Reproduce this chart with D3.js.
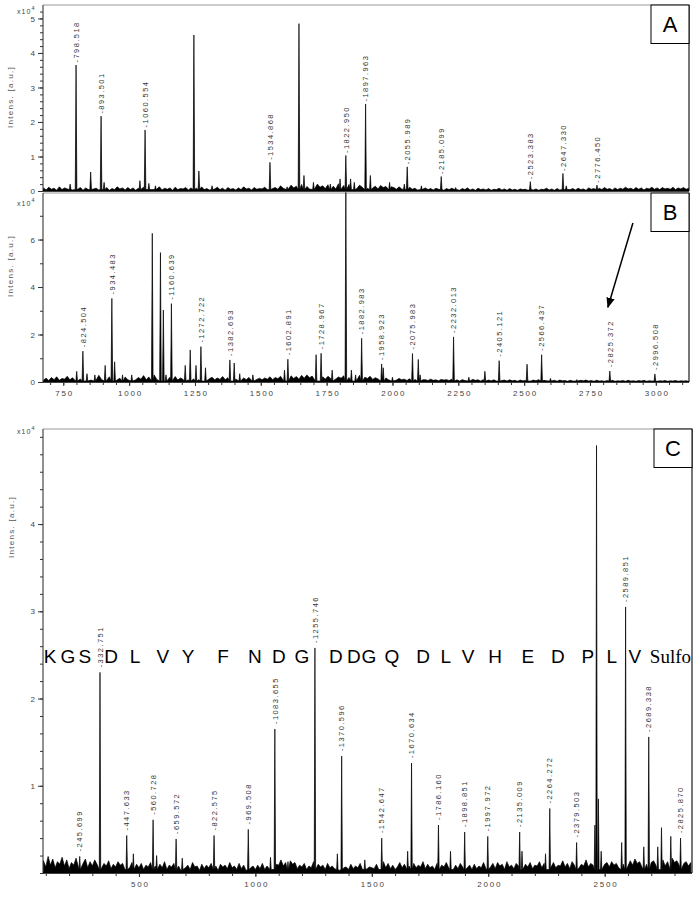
<!DOCTYPE html>
<html><head><meta charset="utf-8">
<script src="https://cdn.jsdelivr.net/npm/d3@7"></script>
<style>
body{margin:0;background:#fff}
svg{display:block}
text{font-family:"Liberation Sans",Arial,sans-serif}
</style>
</head><body>
<svg id="c" width="697" height="900"></svg>
<script>
// ---------------- DATA (intensity in 10^4 a.u.) ----------------
// Panel A
const aMz  = [776,798.518,854,893.501,905,1041,1060.554,1075,1100,1246,1265,1315,1534.868,1600,1645,1664,1700,1764,1801,1822.950,1841,1855,1897.963,1916,1989,2045,2055.989,2110,2185.099,2240,2523.383,2647.330,2660,2776.450];
const aInt = [0.2,3.65,0.55,2.17,0.25,0.3,1.77,0.22,0.15,4.52,0.58,0.15,0.83,0.12,4.85,0.45,0.25,0.2,0.35,1.03,0.35,0.25,2.52,0.45,0.25,0.2,0.7,0.15,0.42,0.1,0.27,0.51,0.15,0.17];
const aLab = ["","798.518","","893.501","","","1060.554","","","","","","1534.868","","","","","","","1822.950","","","1897.963","","","","2055.989","","2185.099","","2523.383","2647.330","","2776.450"];
// Panel A baseline noise, every 10 Da from 675 (units of 0.01 x10^4)
const aNoise = [9,3,11,5,8,2,12,4,9,6,13,3,8,5,10,2,9,4,14,6,8,3,11,5,10,2,7,4,12,6,9,3,10,
 4,9,2,8,5,11,3,7,4,10,6,12,3,8,5,9,2,11,4,7,6,10,3,9,5,8,2,12,4,7,3,9,6,11,4,8,2,10,5,7,3,9,4,12,6,8,3,10,5,7,
 6,11,4,13,7,10,5,15,8,12,6,17,9,14,7,19,10,13,6,16,9,20,11,15,7,18,10,14,6,21,12,16,8,19,10,13,7,17,11,15,8,18,9,14,6,16,10,13,7,12,
 10,5,12,6,9,4,11,5,8,3,10,6,9,4,7,3,8,5,9,2,7,4,8,3,6,2,7,4,9,3,6,2,8,4,6,3,7,2,5,4,8,3,6,2,7,3,5,2,6,4,
 5,2,7,3,6,2,5,4,8,3,6,2,7,3,5,2,6,4,7,3,8,4,6,2,9,5,7,3,8,4,10,5,7,3,9,4,8,5,11,6,8,4,10,5,9,3,8,6,11,5,9,4,10,6,8,5,11,4,9,6,10,5,8];

// Panel B
const bMz  = [801,824.504,840,870,909,934.483,945,975,1010,1088,1119,1130,1140,1160.639,1213,1232,1254,1272.722,1290,1382.693,1399,1420,1470,1590,1602.891,1710,1728.967,1771,1823,1844,1860,1882.983,1958.923,1965,2000,2075.983,2098,2105,2232.013,2290,2351,2405.121,2511,2566.437,2600,2700,2825.372,2996.508];
const bInt = [0.45,1.3,0.35,0.3,0.7,3.52,0.85,0.3,0.3,6.26,5.45,3.03,0.3,3.3,0.7,1.35,0.7,1.49,0.6,0.93,0.8,0.35,0.3,0.5,0.96,1.15,1.21,0.5,8.5,0.5,0.3,1.84,0.76,0.6,0.2,1.2,0.95,0.3,1.9,0.2,0.45,0.9,0.75,1.15,0.15,0.1,0.46,0.34];
const bLab = ["","824.504","","","","934.483","","","","","","","","1160.639","","","","1272.722","","1382.693","","","","","1602.891","","1728.967","","","","","1882.983","1958.923","","","2075.983","","","2232.013","","","2405.121","","2566.437","","","2825.372","2996.508"];
const bNoise = [8,16,6,19,10,22,7,15,12,24,9,18,6,21,13,26,10,17,8,23,14,28,11,19,7,22,12,25,9,16,13,21,10,
 14,24,9,19,12,27,10,21,15,30,11,18,13,25,9,20,12,23,8,17,11,22,9,16,13,24,10,19,12,26,14,20,9,17,11,23,10,18,8,15,12,21,9,17,10,19,8,14,11,16,
 9,17,12,22,10,19,14,24,11,20,13,26,15,23,12,28,16,30,18,25,14,27,17,22,12,24,15,29,13,21,16,26,12,19,14,23,10,28,13,20,15,24,11,18,13,22,10,17,9,15,
 13,8,15,9,12,6,14,8,11,5,13,9,10,6,12,7,9,5,11,8,10,6,12,7,9,4,10,6,8,5,11,7,9,4,10,6,8,5,9,4,10,6,8,4,9,5,7,3,8,5,
 6,9,4,8,5,10,3,7,5,9,4,7,3,8,5,6,3,7,4,6,3,7,5,8,4,6,3,7,4,5,3,6,4,7,3,5,4,6,3,7,4,5,3,6,4,7,3,5,4,6,3,5,4,6,3,5,4,6,3,5,4,5,3];
const bTicks = [750,1000,1250,1500,1750,2000,2250,2500,2750,3000];

// Panel C
const cMz  = [245.699,332.751,447.633,476,560.728,576,659.572,686,822.575,969.508,1065,1083.655,1140,1255.746,1352,1370.596,1470,1542.647,1654,1670.634,1786.160,1838,1898.851,1997.972,2135.009,2145,2246,2264.272,2379.503,2458,2465,2473,2485,2573,2589.851,2668,2689.338,2728,2744,2784,2825.870];
const cInt = [0.19,2.3,0.43,0.22,0.61,0.2,0.39,0.17,0.43,0.5,0.18,1.65,0.13,2.58,0.22,1.34,0.15,0.4,0.25,1.26,0.55,0.25,0.47,0.42,0.47,0.25,0.22,0.74,0.35,0.55,4.9,0.85,0.25,0.35,3.05,0.3,1.56,0.3,0.52,0.42,0.4];
const cLab = ["245.699","332.751","447.633","","560.728","","659.572","","822.575","969.508","","1083.655","","1255.746","","1370.596","","1542.647","","1670.634","1786.160","","1898.851","1997.972","2135.009","","","2264.272","2379.503","","","","","","2589.851","","2689.338","","","","2825.870"];
const cNoise = [14,7,19,9,16,6,13,10,18,8,15,5,12,9,17,7,14,11,16,6,13,8,15,10,12,6,11,8,14,5,10,7,13,9,11,4,9,6,12,7,10,
 6,11,4,9,7,12,5,8,3,10,6,13,4,9,7,11,5,8,3,10,6,9,4,12,7,8,3,10,5,9,6,11,4,8,3,10,7,9,5,12,6,8,4,11,5,9,3,10,6,8,4,
 9,5,11,4,8,7,13,6,10,9,15,8,12,6,14,10,12,5,9,7,11,4,8,6,13,5,10,7,9,4,11,6,8,5,10,3,9,6,7,4,10,5,8,6,11,4,9,5,7,6,
 5,10,4,8,13,6,11,5,9,4,7,12,6,10,5,8,3,11,6,9,7,13,5,10,6,8,4,11,5,9,7,12,6,10,4,9,5,11,7,13,6,9,4,10,5,8,6,12,5,9,
 7,11,5,12,8,10,4,13,7,9,5,11,8,14,6,10,7,12,5,9,8,13,6,11,4,10,7,12,6,9,8,14,7,11,5,13,9,12,6,10,8,15,7,11,9,13,6,12,8,10,
 12,7,13,9,11,6,15,10,12,8,14,9,16,11,13,7,15,10,17,12,14,9,16,11,15,8,13,10,17,12,14,9,15,11,13,8,12];
const cTicks = [500,1000,1500,2000,2500];

// Sequence annotation in panel C (letter, m/z position)
const seqLetters = ["K","G","S","D","L","V","Y","F","N","D","G","D","D","G","Q","D","L","V","H","E","D","P","L","V"];
const seqMz      = [118,195,268,380,483,603,711,861,998,1101,1200,1346,1423,1488,1586,1720,1818,1913,2029,2170,2299,2428,2531,2630];
const sulfoMz = 2694, seqLevel = 2.405;

// Arrow in panel B: [m/z, intensity]
const arrowFrom = [2913, 6.7], arrowTo = [2818, 3.15];

// ---------------- DRAW ----------------
const svg = d3.select("#c");
const defs = svg.append("defs");
defs.append("marker").attr("id","ah").attr("viewBox","0 0 10 10").attr("refX",9).attr("refY",5)
  .attr("markerWidth",7).attr("markerHeight",7).attr("orient","auto-start-reverse")
  .append("path").attr("d","M0,1 L10,5 L0,9 Z").attr("fill","#000");

function drawPanel(p){
  const x = d3.scaleLinear().domain(p.xd).range([p.x0,p.x1]);
  const y = d3.scaleLinear().domain(p.yd).range([p.y0,p.y1]);
  const g = svg.append("g");
  const id = "clip"+p.name;
  defs.append("clipPath").attr("id",id).append("rect")
    .attr("x",p.x0).attr("y",p.y1-0.5).attr("width",p.x1-p.x0).attr("height",p.y0-p.y1+0.5);

  g.append("line").attr("x1",p.x0).attr("x2",p.x1).attr("y1",p.y1).attr("y2",p.y1)
    .attr("stroke","#9a9a9a").attr("stroke-width",1.2);
  g.append("line").attr("x1",p.x1).attr("x2",p.x1).attr("y1",p.y1).attr("y2",p.y0)
    .attr("stroke","#777").attr("stroke-width",2);

  const pts = [];
  p.noise.forEach((v,i)=>{
    const m = p.nStart + i*p.nStep;
    if (p.mz.every(q=>Math.abs(q-m) > p.gap)) pts.push([m, v/100]);
  });
  p.mz.forEach((m,i)=>{ pts.push([m-p.hw,0.04],[m,p.int[i]],[m+p.hw,0.04]); });
  pts.sort((a,b)=>a[0]-b[0]);
  const area = d3.area().x(d=>x(d[0])).y0(y(0)).y1(d=>y(d[1]));
  g.append("path").attr("clip-path",`url(#${id})`).attr("d",area(pts))
    .attr("fill","#000").attr("stroke","#000").attr("stroke-width",0.7).attr("stroke-linejoin","round");

  p.mz.forEach((m,i)=>{
    if(!p.lab[i]) return;
    const tx = x(m)+2.7, ty = y(p.int[i]) - p.lo;
    g.append("text").attr("transform",`translate(${tx},${ty}) rotate(-90)`)
      .attr("font-size",7.5).attr("letter-spacing",1.45).attr("fill","#333")
      .text("-"+p.lab[i]);
  });

  g.append("line").attr("x1",p.x0).attr("x2",p.x0).attr("y1",p.y1).attr("y2",p.y0)
    .attr("stroke","#222").attr("stroke-width",1);
  g.append("line").attr("x1",p.x0).attr("x2",p.x1).attr("y1",p.y0).attr("y2",p.y0)
    .attr("stroke","#000").attr("stroke-width",1.6);

  const yMinor = d3.range(0, p.yd[1]-0.02, p.yMinor);
  const ya1 = d3.axisLeft(y).tickValues(yMinor).tickSize(3).tickFormat("");
  const ya2 = d3.axisLeft(y).tickValues(p.yMajor).tickSize(5).tickPadding(3).tickFormat(d3.format("d"));
  [ya1,ya2].forEach(ax=>{
    const a = g.append("g").attr("transform",`translate(${p.x0},0)`).call(ax);
    a.select(".domain").remove();
    a.selectAll("line").attr("stroke","#333");
    a.selectAll("text").attr("font-size",8).attr("fill","#444").style("font-family","Liberation Sans, Arial, sans-serif");
  });

  if (p.xMinor){
    const xa1 = d3.axisBottom(x).tickValues(p.xMinor).tickSize(3).tickFormat("");
    const xa2 = d3.axisBottom(x).tickValues(p.xMajor).tickSize(4).tickPadding(4).tickFormat(d3.format("d"));
    [xa1,xa2].forEach(ax=>{
      const a = g.append("g").attr("transform",`translate(0,${p.y0})`).call(ax);
      a.select(".domain").remove();
      a.selectAll("line").attr("stroke","#333");
      a.selectAll("text").attr("font-size",8).attr("fill","#444").attr("letter-spacing",1.8)
        .attr("dx",0.9).style("font-family","Liberation Sans, Arial, sans-serif");
    });
  }

  g.append("text").attr("transform",`translate(${p.titleX},${p.titleY}) rotate(-90)`)
    .attr("text-anchor","middle").attr("font-size",8).attr("letter-spacing",1.3).attr("fill","#555")
    .text("Intens. [a.u.]");
  const e = g.append("text").attr("x",17).attr("y",p.expY).attr("font-size",7).attr("fill","#444").attr("letter-spacing",1.1);
  e.append("tspan").text("x10");
  e.append("tspan").attr("dy",-4).attr("font-size",5.5).text("4");

  g.append("rect").attr("x",p.x1-38).attr("y",p.y1).attr("width",38).attr("height",38.5)
    .attr("fill","#fff").attr("stroke","#000").attr("stroke-width",1);
  g.append("text").attr("x",p.x1-19).attr("y",p.y1+27).attr("text-anchor","middle")
    .attr("font-size",22).attr("fill","#000").text(p.name);

  return {x,y,g};
}

const A = drawPanel({name:"A", x0:43, x1:689, y0:191, y1:5, xd:[673,3126], yd:[0,5.39],
  mz:aMz, int:aInt, lab:aLab, noise:aNoise, nStart:675, nStep:10, gap:5, hw:3, lo:2.5,
  yMinor:0.2, yMajor:[0,1,2,3,4,5], titleX:13, titleY:97, expY:14});

const B = drawPanel({name:"B", x0:43, x1:689, y0:382, y1:193, xd:[673,3126], yd:[0,7.96],
  mz:bMz, int:bInt, lab:bLab, noise:bNoise, nStart:675, nStep:10, gap:5, hw:3, lo:4,
  yMinor:1, yMajor:[0,2,4,6], xMinor:d3.range(700,3126,50), xMajor:bTicks,
  titleX:13, titleY:266, expY:206});

const C = drawPanel({name:"C", x0:43, x1:692, y0:873, y1:429, xd:[88,2875], yd:[0,5.09],
  mz:cMz, int:cInt, lab:cLab, noise:cNoise, nStart:90, nStep:10, gap:5, hw:3, lo:5,
  yMinor:0.2, yMajor:[1,2,3,4], xMinor:d3.range(100,2875,100), xMajor:cTicks,
  titleX:14, titleY:527, expY:434});

B.g.append("line").attr("x1",B.x(arrowFrom[0])).attr("y1",B.y(arrowFrom[1]))
  .attr("x2",B.x(arrowTo[0])).attr("y2",B.y(arrowTo[1]))
  .attr("stroke","#000").attr("stroke-width",1.5).attr("marker-end","url(#ah)");

C.g.selectAll("text.seq").data(seqLetters).enter().append("text").attr("class","seq")
  .attr("x",(d,i)=>C.x(seqMz[i])).attr("y",C.y(seqLevel))
  .attr("text-anchor","middle").attr("font-size",19).attr("fill","#000").text(d=>d);
C.g.append("text").attr("x",C.x(sulfoMz)).attr("y",C.y(seqLevel))
  .style("font-family","'Liberation Serif', 'Times New Roman', serif").attr("font-size",19)
  .attr("fill","#000").text("Sulfo");
</script>
</body></html>
